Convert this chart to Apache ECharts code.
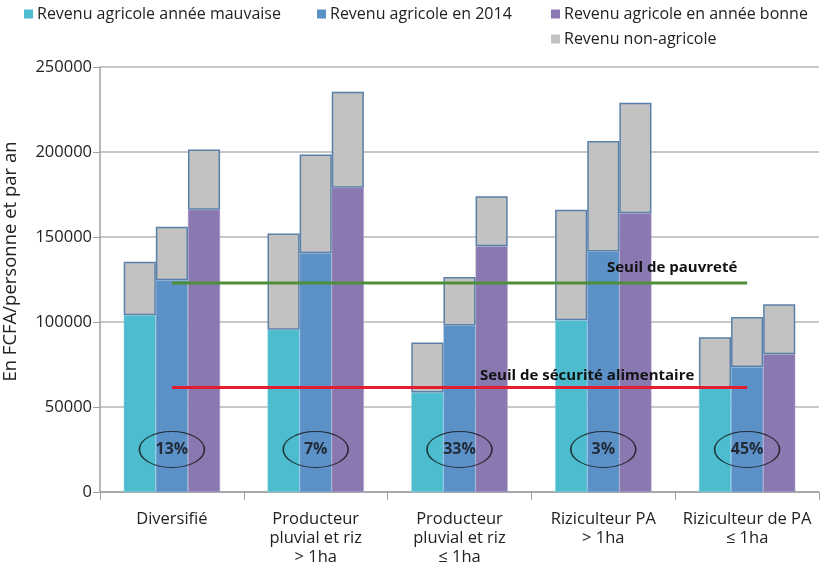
<!DOCTYPE html>
<html><head><meta charset="utf-8">
<script src="https://cdn.jsdelivr.net/npm/echarts@6/dist/echarts.min.js"></script>
<style>html,body{margin:0;padding:0;background:#fff}#c{width:828px;height:565px}</style>
</head><body><div id="c"></div>
<script>
const categories = ["Diversifié", "Producteur\npluvial et riz\n> 1ha", "Producteur\npluvial et riz\n≤ 1ha", "Riziculteur PA\n> 1ha", "Riziculteur de PA\n≤ 1ha"];
const agriMauvaise = [104000, 95500, 58500, 101000, 61000];
const nonAgriMauvaise = [31500, 56500, 29500, 65000, 30000];
const agri2014 = [124500, 140500, 98000, 141500, 73500];
const nonAgri2014 = [31500, 58000, 28500, 65000, 29500];
const agriBonne = [166000, 179000, 144500, 164000, 81000];
const nonAgriBonne = [35500, 56500, 29500, 65000, 29500];
const seuilPauvrete = [123000, 123000, 123000, 123000, 123000];
const seuilSecurite = [61500, 61500, 61500, 61500, 61500];
const shareLabels = ["13%", "7%", "33%", "3%", "45%"];
const shareY = [25000, 25000, 25000, 25000, 25000];
const yTicks = [0, 50000, 100000, 150000, 200000, 250000];

const FONT = "'Open Sans', 'Noto Sans', sans-serif";
const C_CYAN = '#4dbccf', C_BLUE = '#5b91c7', C_PURPLE = '#8a78b0', C_GREY = '#c2c2c2';
const greyStyle = {color: C_GREY, borderColor: '#5a80aa', borderWidth: 1.5};

const chart = echarts.init(document.getElementById('c'), null, {renderer: 'canvas'});
function legendAt(left, top, name) {
  return {left: left, top: top, data: [name], itemWidth: 9, itemHeight: 9, icon: 'rect',
    itemGap: 0, itemStyle: {borderWidth: 0}, padding: 0,
    textStyle: {fontFamily: FONT, fontSize: 16, color: '#222', padding: [0,0,0,-1]}, selectedMode: false};
}
chart.setOption({
  animation: false,
  textStyle: {fontFamily: FONT},
  grid: {left: 100, right: 9, top: 67, bottom: 73, containLabel: false, outerBoundsMode: 'none'},
  legend: [
    legendAt(24, 6, 'Revenu agricole année mauvaise'),
    legendAt(317, 6, 'Revenu agricole en 2014'),
    legendAt(551, 6, 'Revenu agricole en année bonne'),
    legendAt(551, 31, 'Revenu non-agricole')
  ],
  xAxis: {
    type: 'category', data: categories,
    axisLine: {lineStyle: {color: '#a0a0a0', width: 1.5}},
    axisTick: {show: true, length: 8, lineStyle: {color: '#a0a0a0'}},
    axisLabel: {fontFamily: FONT, fontSize: 16.5, color: '#222', lineHeight: 19, margin: 18, interval: 0}
  },
  yAxis: {
    type: 'value', min: yTicks[0], max: yTicks[yTicks.length-1], interval: 50000,
    name: 'En FCFA/personne et par an', nameLocation: 'middle', nameGap: 80,
    nameTextStyle: {fontFamily: FONT, fontSize: 18.5, color: '#222', padding: [0, 0, 0, 36]},
    axisLine: {show: true, lineStyle: {color: '#a0a0a0', width: 1.5}},
    axisTick: {show: true, length: 7, lineStyle: {color: '#a0a0a0'}},
    axisLabel: {fontFamily: FONT, fontSize: 16.5, color: '#222', margin: 8, formatter: v => String(v)},
    splitLine: {lineStyle: {color: '#b4b4b4', width: 1.5}}
  },
  series: [
    {name: 'Revenu agricole année mauvaise', type: 'bar', stack: 'a', data: agriMauvaise,
      barGap: '0%', barCategoryGap: '33%', itemStyle: {color: C_CYAN, borderColor: '#8fd6e2', borderWidth: 0.5}},
    {name: 'Revenu agricole en 2014', type: 'bar', stack: 'b', data: agri2014,
      itemStyle: {color: C_BLUE, borderColor: '#8fb4dc', borderWidth: 0.5}},
    {name: 'Revenu agricole en année bonne', type: 'bar', stack: 'c', data: agriBonne,
      itemStyle: {color: C_PURPLE, borderColor: '#b3a6cf', borderWidth: 0.5}},
    {name: 'Revenu non-agricole', type: 'bar', stack: 'a', data: nonAgriMauvaise, itemStyle: greyStyle},
    {name: 'Revenu non-agricole', type: 'bar', stack: 'b', data: nonAgri2014, itemStyle: greyStyle},
    {name: 'Revenu non-agricole', type: 'bar', stack: 'c', data: nonAgriBonne, itemStyle: greyStyle},
    {name: 'pauvrete', type: 'line', data: seuilPauvrete, symbol: 'none', z: 5,
      lineStyle: {color: '#4f8f3a', width: 3}},
    {name: 'securite', type: 'line', data: seuilSecurite, symbol: 'none', z: 5,
      lineStyle: {color: '#e31d2f', width: 3}},
    {name: 'parts', type: 'scatter', data: shareY, symbol: 'circle', symbolSize: [65, 36], z: 6,
      itemStyle: {color: 'rgba(0,0,0,0)', borderColor: '#111', borderWidth: 1.2},
      label: {show: true, position: 'inside', formatter: p => shareLabels[p.dataIndex],
        fontFamily: FONT, fontSize: 16, fontWeight: 'bold', color: '#111'}}
  ],
  graphic: [
    {type: 'text', left: 607, top: 260, z: 10, style: {text: 'Seuil de pauvreté', fontFamily: FONT, fontSize: 15, fontWeight: 'bold', fill: '#111'}},
    {type: 'text', left: 480, top: 368, z: 10, style: {text: 'Seuil de sécurité alimentaire', fontFamily: FONT, fontSize: 15, fontWeight: 'bold', fill: '#111'}}
  ]
});
</script></body></html>
